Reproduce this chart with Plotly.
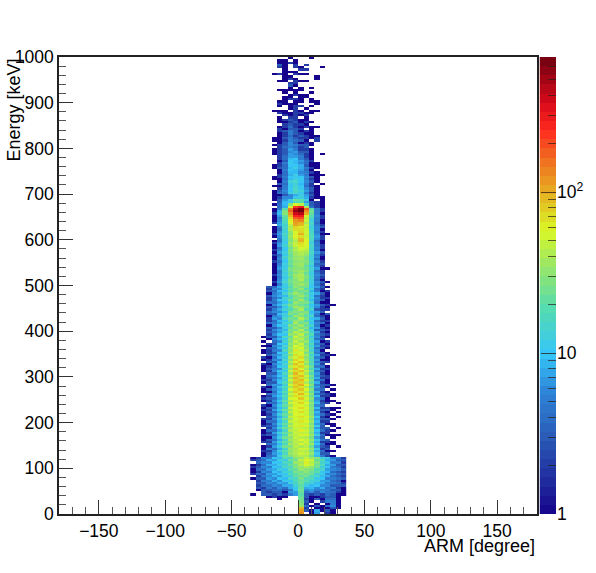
import math
import numpy as np
import plotly.graph_objects as go

W, H = 596, 573
BIN_DEG = 4
BIN_KEV = 5
ARM_LEFT = -36

# counts, top row first; columns -20..20 degree (10 bins), 995 down to 700 keV
counts_high = [
[0,0,0,1,0,0,0,1,0,0],[0,1,1,0,1,0,0,0,0,0],[0,1,1,2,1,0,0,0,0,0],[0,3,1,0,2,0,2,0,0,0],[0,2,1,0,2,1,0,0,0,1],
[0,0,1,0,0,2,2,0,0,0],[0,0,1,1,1,0,0,0,0,0],[1,2,1,0,2,1,1,0,0,0],[0,0,1,1,0,0,0,0,1,0],[0,0,1,2,1,0,0,0,1,0],
[0,1,1,0,2,1,1,0,0,0],[0,0,0,2,2,0,0,0,0,0],[0,0,0,3,1,0,0,0,0,0],[0,0,0,1,0,1,0,1,0,0],[0,1,1,1,1,1,0,0,0,0],
[0,0,1,0,1,0,0,1,0,0],[0,0,0,1,2,1,1,0,0,0],[0,0,1,1,0,1,1,0,0,0],[0,0,1,2,2,1,0,1,0,0],[0,1,1,0,1,1,0,1,1,0],
[0,2,1,1,1,0,0,0,1,0],[0,1,0,1,2,2,0,1,0,0],[0,0,0,1,2,0,1,0,0,0],[1,1,1,0,2,1,0,1,1,0],[0,2,1,1,2,2,1,1,0,0],
[0,0,2,1,2,1,2,0,0,0],[0,1,0,2,2,0,1,0,0,0],[0,1,2,3,2,1,1,0,0,0],[0,1,1,2,3,1,2,1,0,0],[0,0,2,3,2,2,1,0,0,0],
[0,1,2,4,2,1,2,1,1,0],[0,2,1,3,3,2,0,1,0,0],[0,2,3,5,3,1,2,1,0,0],[0,1,2,5,3,2,1,1,0,0],[0,1,2,4,2,3,2,1,1,0],
[1,1,3,5,3,2,2,1,2,0],[1,1,2,5,4,3,1,0,2,0],[0,1,3,6,3,1,2,1,0,0],[1,2,3,6,5,3,3,1,0,0],[0,2,4,5,4,2,3,0,0,0],
[1,2,3,7,5,2,2,1,0,0],[1,2,3,6,7,3,3,1,0,0],[1,2,3,7,6,4,2,1,0,1],[0,2,4,7,7,5,2,1,0,0],[0,2,4,9,10,5,3,1,0,0],
[0,1,3,10,9,7,4,2,0,0],[0,2,5,11,9,6,4,1,1,0],[1,2,4,10,10,8,3,1,1,0],[1,3,4,9,12,8,5,2,1,0],[0,1,5,10,9,7,4,1,0,0],
[0,1,4,9,9,6,5,2,1,0],[0,2,4,8,12,7,5,1,1,1],[1,2,5,10,11,10,6,3,1,0],[1,1,4,9,12,11,5,2,1,0],[0,1,5,13,15,10,6,3,1,0],
[0,3,4,11,13,9,5,2,0,1],[1,1,5,10,14,10,4,2,1,0],[0,2,5,11,15,11,6,3,1,0],[1,3,6,10,16,13,7,3,1,0],[1,4,5,12,15,11,5,2,1,0],
]

# columns -28..32 degree (15 bins), 695 down to 125 keV
counts_mid = [
# 695-600
[0,0,1,1,3,6,8,12,7,3,1,0,0,0,0],[0,0,1,2,6,6,11,12,8,2,1,1,0,0,0],[0,0,1,3,7,12,24,20,12,1,0,1,0,0,0],[0,0,0,3,9,10,16,19,7,3,2,1,0,0,0],
[0,0,1,4,9,30,60,45,14,3,2,1,0,0,0],[0,0,0,4,8,55,220,300,40,4,2,1,0,0,0],[0,0,1,5,20,140,420,650,180,20,5,2,0,0,0],[0,0,1,8,28,170,550,680,130,25,5,2,0,0,0],
[0,0,2,9,30,120,380,450,100,22,5,1,0,0,0],[0,0,1,7,22,90,260,280,60,18,6,2,0,0,0],[0,0,1,5,20,70,180,200,45,16,5,2,0,0,0],[0,0,1,6,18,60,120,140,50,13,5,1,0,0,0],
[0,0,2,7,16,55,110,95,40,15,4,1,0,0,0],[0,0,0,8,14,45,105,90,50,14,5,2,0,0,0],[0,0,1,5,15,40,75,65,45,12,6,3,0,0,0],[0,0,1,4,14,42,70,70,50,14,6,1,0,0,0],
[0,0,1,6,13,32,55,75,52,15,5,2,0,0,0],[0,0,2,7,16,30,60,95,50,16,6,1,1,0,0],[0,0,1,6,14,34,60,70,48,18,7,2,0,0,0],[0,0,0,5,13,30,48,90,55,16,6,2,0,0,0],
# 595-500
[0,0,1,4,12,28,42,95,60,15,4,1,0,0,0],[0,0,2,6,11,34,46,70,58,12,5,1,0,0,0],[0,0,1,7,14,30,50,65,55,15,5,2,0,0,0],[0,0,1,4,11,24,38,55,50,14,6,2,0,0,0],
[0,0,2,5,10,28,44,50,45,14,5,1,0,0,0],[0,0,1,7,13,26,36,42,38,16,7,3,0,0,0],[0,0,2,4,11,22,36,40,32,14,5,2,0,0,0],[0,0,1,5,14,24,32,34,28,13,6,1,0,0,0],
[0,0,1,6,12,25,34,38,26,12,4,1,0,0,0],[0,0,2,4,10,22,30,32,30,14,6,2,0,0,0],[0,0,1,5,13,24,34,36,26,15,4,3,0,0,0],[0,0,1,6,11,20,30,35,22,11,5,2,0,0,0],
[0,0,1,7,12,26,30,30,24,14,7,1,1,0,0],[0,0,1,5,14,24,32,38,28,13,4,2,0,0,0],[0,0,1,5,12,22,28,34,22,12,5,2,0,0,0],[0,0,2,6,13,24,36,40,26,12,6,3,0,0,0],
[0,0,1,5,11,20,34,38,28,14,5,2,0,0,0],[0,0,1,6,13,25,28,42,24,12,4,1,0,0,0],[0,0,2,7,15,24,32,30,26,13,6,3,1,0,0],[0,0,1,5,12,22,30,36,28,11,5,2,0,0,0],
# 495-400
[0,3,4,8,11,18,32,26,24,10,7,3,1,0,0],[0,2,6,6,13,22,24,34,18,13,4,2,0,0,0],[0,3,4,9,10,17,28,24,28,9,5,1,2,0,0],[0,1,5,7,14,24,36,28,20,12,8,3,1,0,0],
[0,3,6,8,9,20,24,36,26,10,4,2,1,0,0],[0,2,4,6,14,16,30,26,18,13,6,2,2,0,0],[0,2,5,10,12,24,24,38,22,9,5,3,1,0,0],[0,4,4,7,10,18,34,28,26,14,4,1,1,0,0],
[0,1,6,9,15,26,28,24,20,10,7,3,2,1,0],[0,3,3,6,11,20,38,32,24,12,6,2,1,0,0],[0,2,5,8,14,18,26,40,18,14,3,2,2,0,0],[0,4,6,6,9,24,30,26,30,9,7,3,0,0,0],
[0,3,3,9,13,28,22,34,24,11,5,1,3,0,0],[0,1,5,7,12,18,36,28,20,15,4,2,1,0,0],[0,2,7,6,15,24,24,42,26,10,8,3,1,0,0],[0,2,4,9,10,20,32,30,18,12,4,2,2,0,0],
[0,4,5,7,14,16,40,24,28,10,6,4,1,0,0],[0,1,6,10,11,26,28,36,22,14,5,1,2,0,0],[0,3,3,6,13,20,34,26,30,9,7,2,1,0,0],[0,2,6,8,9,28,26,44,20,12,3,3,2,0,0],
# 395-300
[0,3,4,7,14,24,44,32,34,14,7,2,1,0,0],[0,2,6,10,10,32,36,46,24,18,5,3,2,0,0],[1,3,3,7,16,22,50,36,30,12,6,2,1,0,0],[0,1,6,9,11,30,38,44,26,16,4,3,0,0,0],
[1,0,4,6,14,26,48,36,34,13,7,1,2,0,0],[0,2,3,10,10,34,38,52,24,18,5,3,1,0,0],[1,1,6,7,15,28,56,44,32,12,7,2,2,0,0],[0,3,4,9,12,36,46,58,28,17,4,3,1,0,0],
[1,2,5,6,16,30,64,48,36,14,6,1,0,0,0],[1,2,3,10,11,38,50,60,26,20,5,3,1,0,0],[0,3,6,7,15,28,70,52,38,14,8,2,2,1,0],[2,1,4,9,12,40,52,72,30,18,5,3,1,0,0],
[1,2,6,6,16,30,76,56,34,15,7,1,1,0,0],[0,3,3,10,11,42,60,84,40,20,5,3,2,0,0],[2,1,6,8,15,32,88,62,30,16,7,2,0,0,0],[1,2,4,10,12,44,66,76,44,22,5,4,1,0,0],
[1,3,5,6,16,34,92,60,36,17,8,2,2,0,0],[1,2,6,11,11,48,70,84,48,24,5,3,1,0,0],[0,3,3,8,17,36,94,64,38,18,7,2,1,0,0],[1,4,6,10,12,50,72,88,50,26,6,3,2,0,0],
# 295-200
[1,3,4,7,17,36,96,70,42,20,8,2,2,0,0],[2,2,6,9,12,52,74,90,54,26,5,4,1,0,0],[1,3,3,10,18,38,88,76,40,22,8,2,1,0,0],[0,4,7,7,13,54,72,96,58,28,5,3,3,1,0],
[2,1,5,11,18,36,84,68,40,20,7,3,1,0,0],[1,3,6,8,14,56,68,86,56,28,5,4,0,1,0],[1,1,4,10,20,38,80,66,42,22,8,2,1,0,0],[0,4,6,8,14,50,62,94,60,30,5,3,2,1,0],
[1,2,7,10,20,40,70,64,44,24,9,2,2,1,0],[2,3,4,8,15,54,58,82,54,30,6,4,1,0,0],[1,2,6,11,22,38,66,62,46,24,7,2,1,1,0],[0,4,4,8,15,52,54,76,56,32,9,3,2,0,1],
[2,1,6,11,22,36,62,58,48,26,6,4,0,0,0],[1,3,4,9,14,50,56,72,58,30,9,2,2,1,1],[2,2,7,12,24,36,60,56,50,28,6,3,3,1,0],[1,3,4,8,15,48,54,70,52,30,9,2,1,0,1],
[1,2,6,12,22,34,58,54,50,30,7,4,2,1,0],[0,3,4,8,16,46,52,68,56,36,10,2,1,0,1],[2,2,6,12,24,34,56,50,52,28,7,3,3,1,0],[1,4,4,9,16,46,50,66,58,36,9,2,2,0,0],
# 195-125
[1,2,6,12,22,32,54,50,48,28,7,4,1,1,0],[2,3,4,9,16,44,50,64,54,34,11,3,0,1,0],[0,2,6,13,24,32,52,48,44,30,7,3,3,0,1],[1,4,4,8,15,42,46,62,52,32,10,4,2,1,0],
[1,2,7,13,22,30,50,46,46,28,8,2,2,0,0],[2,3,4,9,16,40,44,60,54,36,12,4,1,1,1],[1,1,6,12,24,30,48,44,42,26,7,3,0,1,0],[1,3,4,8,15,38,42,58,50,34,11,5,3,0,0],
[2,2,7,13,22,28,46,42,52,26,8,2,2,1,0],[0,4,5,9,16,38,40,56,46,36,10,4,1,1,0],[1,2,7,12,24,28,44,40,44,24,7,3,2,0,1],[1,5,4,8,14,36,38,52,50,32,12,2,3,0,0],
[2,2,6,13,20,30,42,44,42,26,8,4,1,1,0],[1,3,7,9,16,34,40,50,46,34,11,3,3,0,0],[1,4,5,12,22,28,38,42,40,24,9,5,2,1,0],
]

# columns -36..36 degree (18 bins), 120 down to 0 keV
counts_low = [
[1,2,6,5,10,9,18,16,30,34,48,36,30,13,12,5,5,2],[2,3,4,8,7,13,12,24,24,46,56,50,22,18,8,7,3,3],[0,4,6,6,10,10,16,18,34,38,62,44,28,14,11,5,5,2],[1,2,4,8,8,12,13,22,26,42,54,48,24,17,8,7,3,3],
[2,3,6,5,10,9,16,16,30,32,40,32,24,12,10,5,4,2],[1,4,4,7,8,12,11,20,22,34,30,28,17,15,7,6,5,3],[1,2,6,5,10,8,14,14,26,24,32,22,20,10,9,4,3,2],[2,4,3,7,7,10,10,18,20,28,24,24,13,12,6,6,4,3],
[0,2,5,6,9,7,12,12,22,22,26,16,15,9,8,4,3,2],[1,3,3,7,6,10,9,15,16,26,18,18,11,10,5,5,4,3],[0,2,5,5,8,6,11,10,18,22,20,13,13,7,7,4,3,1],[0,3,3,6,5,8,7,13,14,24,14,14,9,8,5,5,4,2],
[0,2,4,4,6,5,8,8,14,20,12,9,10,6,6,3,3,3],[0,3,2,5,3,6,4,8,10,22,8,9,6,8,4,5,2,1],[0,1,3,3,4,4,3,5,11,24,6,7,5,5,5,3,3,1],[0,0,3,2,3,3,1,7,7,22,4,6,3,6,4,4,2,1],
[1,0,3,3,2,3,2,5,7,20,3,2,3,2,4,3,1,1],[0,0,0,1,2,1,1,0,0,22,3,1,1,2,3,3,1,0],[0,0,0,0,0,1,0,0,0,24,2,1,3,1,4,4,1,0],[0,0,0,0,0,0,0,0,0,26,3,1,0,2,5,5,1,0],
[0,0,0,0,0,0,0,0,0,30,2,0,1,0,1,5,1,0],[0,0,0,0,0,0,0,0,0,34,4,1,3,1,4,6,1,0],[0,0,0,0,0,0,0,0,0,90,2,0,1,1,1,3,1,0],[0,0,0,0,0,0,0,0,0,110,3,1,8,1,3,1,0,0],
[0,0,0,0,0,0,0,0,0,120,0,1,7,0,2,1,0,0],
]

x_ticks = [-150, -100, -50, 0, 50, 100, 150]
y_ticks = list(range(0, 1001, 100))
colorbar_tick_values = [1, 10, 100]
colorbar_tick_labels = ["1", "10", "10<sup>2</sup>"]
colorbar_minor_values = [2,3,4,5,6,7,8,9,20,30,40,50,60,70,80,90,200,300,400,500,600]
Z_MAX = 690

palette = [
    [0.00, "#16048c"], [0.07, "#1f2a9c"], [0.17, "#2a5cb8"], [0.27, "#2e86d8"],
    [0.35, "#35c5f8"], [0.45, "#55dcb0"], [0.55, "#9fe860"], [0.62, "#d9f828"],
    [0.70, "#e6b020"], [0.78, "#f06a20"], [0.84, "#ff2a20"], [0.90, "#d80a1a"],
    [1.00, "#6e0010"],
]

def pad(rows, before, after):
    return [[0] * before + r + [0] * after for r in rows]

rows = pad(counts_high, 4, 4) + pad(counts_mid, 2, 1) + counts_low
rows = rows[::-1]
z = [[math.log10(v) if v > 0 else None for v in r] for r in rows]
x_edges = [ARM_LEFT + BIN_DEG * i for i in range(len(rows[0]) + 1)]
y_edges = [BIN_KEV * i for i in range(len(rows) + 1)]

zmax = math.log10(Z_MAX)
bar_levels = np.linspace(0, zmax, 51)

fig = go.Figure()
fig.add_trace(go.Heatmap(x=x_edges, y=y_edges, z=z, zmin=0, zmax=zmax, colorscale=palette,
                         showscale=False, hoverongaps=False))
fig.add_trace(go.Heatmap(x=[0, 1], y=list(bar_levels), z=[[(a + b) / 2] for a, b in zip(bar_levels[:-1], bar_levels[1:])],
                         xaxis="x2", yaxis="y2", zmin=0, zmax=zmax, colorscale=palette, showscale=False))

L, R, T, B = 59, 537, 57, 514
font = dict(family="Liberation Sans, Arial, sans-serif", size=17.5, color="black")
title_font = dict(family="Liberation Sans, Arial, sans-serif", size=18, color="black")
axis_common = dict(showgrid=False, zeroline=False, showline=True, linecolor="#222", linewidth=1.5, automargin=False,
                   mirror=True, ticks="inside", tickcolor="#333", tickwidth=1, tickfont=font, ticklen=14)

fig.update_layout(
    width=W, height=H, autosize=False, paper_bgcolor="white", plot_bgcolor="white",
    margin=dict(l=0, r=0, t=0, b=0), font=font, showlegend=False,
    xaxis=dict(domain=[L / W, R / W], range=[-180, 180], tickvals=x_ticks, anchor="y",
               minor=dict(ticks="inside", ticklen=7, dtick=10, tick0=0, tickcolor="#555", showgrid=False), **axis_common),
    yaxis=dict(domain=[1 - B / H, 1 - T / H], range=[0, 1000], tickvals=y_ticks, anchor="x",
               minor=dict(ticks="inside", ticklen=7, dtick=20, tick0=0, tickcolor="#555", showgrid=False), **axis_common),
    xaxis2=dict(domain=[539.5 / W, 556 / W], range=[0, 1], anchor="y2", showticklabels=False, ticks="",
                showgrid=False, zeroline=False, showline=False, automargin=False),
    yaxis2=dict(domain=[1 - B / H, 1 - T / H], range=[0, zmax], anchor="x2", side="right", showgrid=False, zeroline=False,
                showline=False, ticks="inside", ticklen=15, tickcolor="rgba(40,30,20,0.75)", tickwidth=1, automargin=False,
                tickvals=[math.log10(v) for v in colorbar_tick_values], ticktext=colorbar_tick_labels, tickfont=font,
                minor=dict(ticks="inside", ticklen=8, tickcolor="rgba(40,30,20,0.7)",
                           tickvals=[math.log10(v) for v in colorbar_minor_values], showgrid=False)),
    annotations=[
        dict(text="ARM [degree]", xref="paper", yref="paper", x=R / W, y=1 - 558 / H, xanchor="right", yanchor="bottom",
             showarrow=False, font=title_font),
        dict(text="Energy [keV]", xref="paper", yref="paper", x=2 / W, y=1 - T / H, xanchor="left", yanchor="top",
             textangle=-90, showarrow=False, font=title_font),
    ],
)
fig.write_html("out.html", config=dict(displayModeBar=False),
               post_script="document.body.style.margin='0';")
